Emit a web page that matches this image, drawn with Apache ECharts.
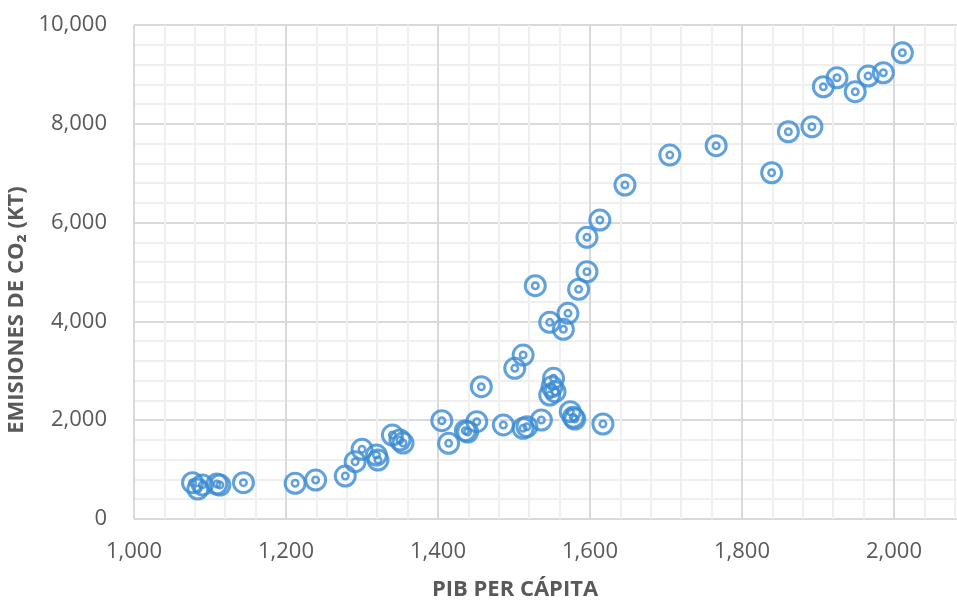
<!DOCTYPE html>
<html>
<head>
<meta charset="utf-8">
<script src="https://cdn.jsdelivr.net/npm/echarts@6/dist/echarts.min.js"></script>
<style>
  html, body { margin: 0; padding: 0; background: #fff; }
  #chart { width: 957px; height: 601px; }
</style>
</head>
<body>
<div id="chart"></div>
<script>
// PIB per cápita (x) and emisiones de CO2 en kt (y)
var pibPerCapita = [
  1077, 1084, 1090, 1109, 1113, 1144, 1212, 1239, 1278, 1291,
  1300, 1319, 1321, 1340, 1350, 1354, 1405, 1414, 1436, 1439,
  1451, 1457, 1486, 1501, 1512, 1512, 1517, 1536, 1552, 1550,
  1554, 1547, 1574, 1578, 1580, 1617, 1528, 1547, 1565, 1571,
  1585, 1596, 1596, 1613, 1646, 1705, 1766, 1839, 1861, 1892,
  1907, 1925, 1949, 1966, 1986, 2011
];
var emisionesCO2 = [
  735, 607, 690, 708, 688, 735, 723, 789, 870, 1160,
  1411, 1295, 1194, 1700, 1599, 1538, 1990, 1532, 1787, 1761,
  1969, 2678, 1903, 3050, 3319, 1836, 1868, 2004, 2848, 2678,
  2577, 2510, 2172, 2058, 2024, 1923, 4722, 3981, 3840, 4163,
  4649, 5005, 5702, 6052, 6760, 7367, 7556, 7009, 7839, 7940,
  8750, 8932, 8649, 8966, 9033, 9438
];

var points = pibPerCapita.map(function (x, i) { return [x, emisionesCO2[i]]; });
var blue = "#3a8bd3";
var labelColor = "#595959";
var font = "'Open Sans', sans-serif";

var chart = echarts.init(document.getElementById("chart"));
chart.setOption({
  animation: false,
  grid: {
    left: 134,
    top: 25,
    bottom: 82,
    width: 836,
    outerBoundsMode: "none"
  },
  xAxis: {
    type: "value",
    min: 1000,
    max: 2100,
    interval: 200,
    name: "PIB PER CÁPITA",
    nameLocation: "middle",
    nameGap: 60,
    nameTextStyle: {
      color: labelColor,
      fontSize: 22,
      fontWeight: "bold",
      fontFamily: font,
      padding: [0, 74, 0, 0]
    },
    axisLine: { show: false },
    axisTick: { show: false },
    axisLabel: {
      color: labelColor,
      fontSize: 22,
      fontFamily: font,
      margin: 22,
      showMaxLabel: false,
      formatter: function (v) { return v.toLocaleString("en-US"); }
    },
    splitLine: { lineStyle: { color: "#d9d9d9", width: 2 } },
    minorTick: { show: false, splitNumber: 5 },
    minorSplitLine: { show: true, lineStyle: { color: "#efefef", width: 2 } }
  },
  yAxis: {
    type: "value",
    min: 0,
    max: 10000,
    interval: 2000,
    name: "EMISIONES DE CO₂ (KT)",
    nameLocation: "middle",
    nameGap: 94,
    nameTextStyle: {
      color: labelColor,
      fontSize: 22,
      fontWeight: "bold",
      fontFamily: font,
      padding: [0, 76, 0, 0]
    },
    axisLine: { show: false },
    axisTick: { show: false },
    axisLabel: {
      color: labelColor,
      fontSize: 22,
      fontFamily: font,
      margin: 27,
      formatter: function (v) { return v.toLocaleString("en-US"); }
    },
    splitLine: { lineStyle: { color: "#d9d9d9", width: 2 } },
    minorTick: { show: false, splitNumber: 5 },
    minorSplitLine: { show: true, lineStyle: { color: "#efefef", width: 2 } }
  },
  series: [
    {
      type: "scatter",
      data: points,
      symbol: "circle",
      symbolSize: 20,
      itemStyle: {
        color: "rgba(255,255,255,0)",
        borderColor: blue,
        borderWidth: 3
      }
    },
    {
      type: "scatter",
      data: points,
      symbol: "circle",
      symbolSize: 6.5,
      itemStyle: {
        color: "rgba(255,255,255,0)",
        borderColor: blue,
        borderWidth: 2.5
      }
    }
  ]
});
</script>
</body>
</html>
